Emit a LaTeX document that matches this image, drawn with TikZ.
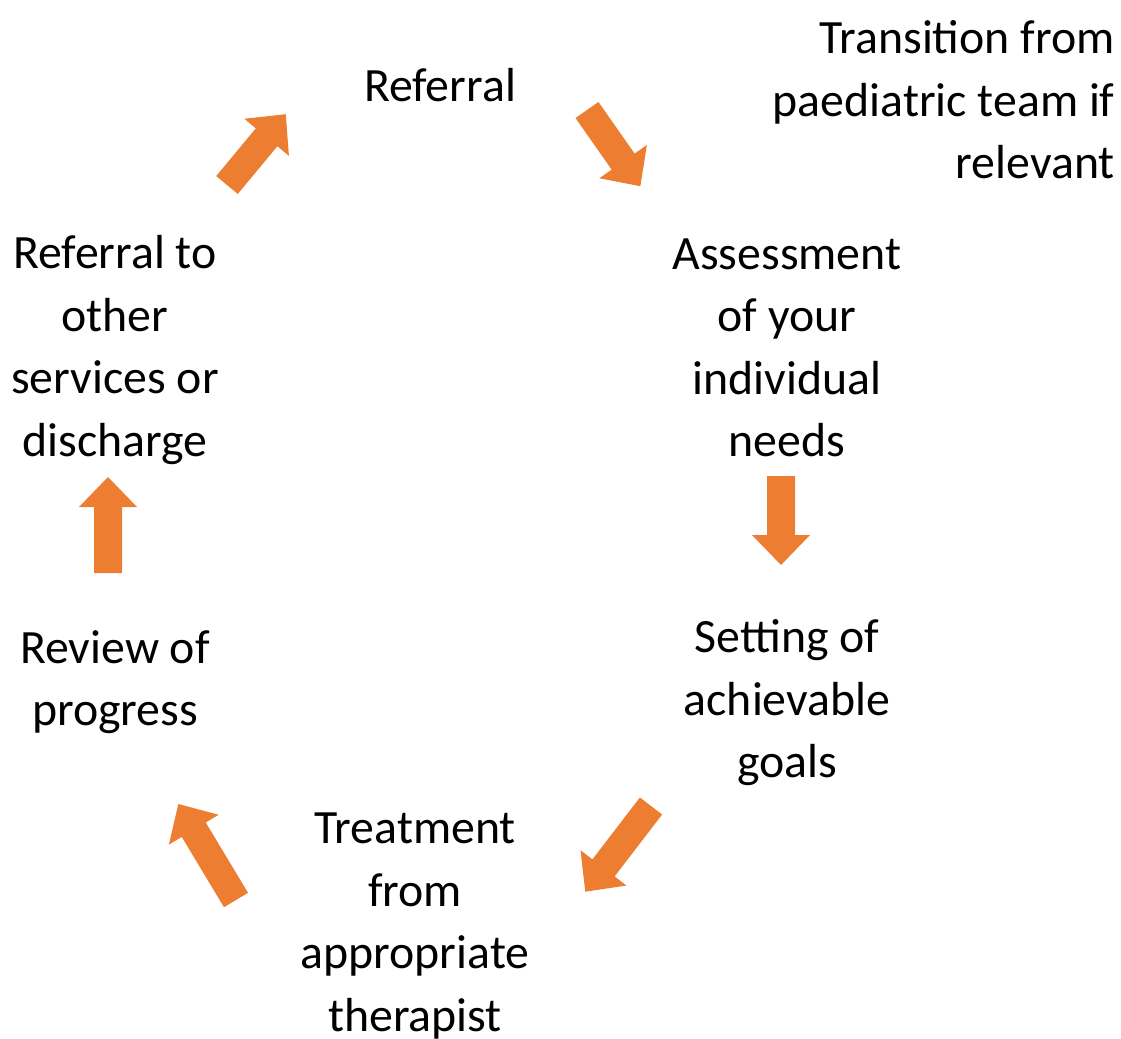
\documentclass[tikz,border=0pt]{standalone}
\usepackage{fontspec}
\setmainfont{Carlito}
\definecolor{arroworange}{HTML}{ED7D31}
% block arrow: tail x, tail y, angle, length
\newcommand{\blockarrow}[4]{%
  \begin{scope}[shift={(#1,#2)}, rotate=#3]
    \fill [arroworange] (0,-14) -- (#4-30,-14) -- (#4-30,-29) -- (#4,0)
      -- (#4-30,29) -- (#4-30,14) -- (0,14) -- cycle;
  \end{scope}}
\begin{document}
\begin{tikzpicture}[x = 0.5pt, y = -0.5pt,
    every node/.style = {align = center, inner sep = 0pt,
      font = \fontsize{23.9}{31.25}\selectfont}]
        \useasboundingbox (0, 0) rectangle (1121, 1039);
        \node (referral) at (440, 85) {Referral};
        \node [anchor = east, align = right] (transition) at (1115, 100) {Transition from\\paediatric team if\\relevant};
        \node (assessment) at (787, 348) {Assessment\\of your\\individual\\needs};
        \node (goals) at (787, 703) {Setting of\\achievable\\goals};
        \node (treatment) at (415, 926) {Treatment\\from\\appropriate\\therapist};
        \node (review) at (115, 682) {Review of\\progress};
        \node (discharge) at (115, 350) {Referral to\\other\\services or\\discharge};

        \blockarrow{227}{185}{50.3}{92}
        \blockarrow{587}{110}{-55}{93}
        \blockarrow{781}{476}{-90}{89}
        \blockarrow{651}{806}{232.5}{108}
        \blockarrow{236}{900}{121}{112}
        \blockarrow{108}{573}{90}{96}
    \end{tikzpicture}
\end{document}
